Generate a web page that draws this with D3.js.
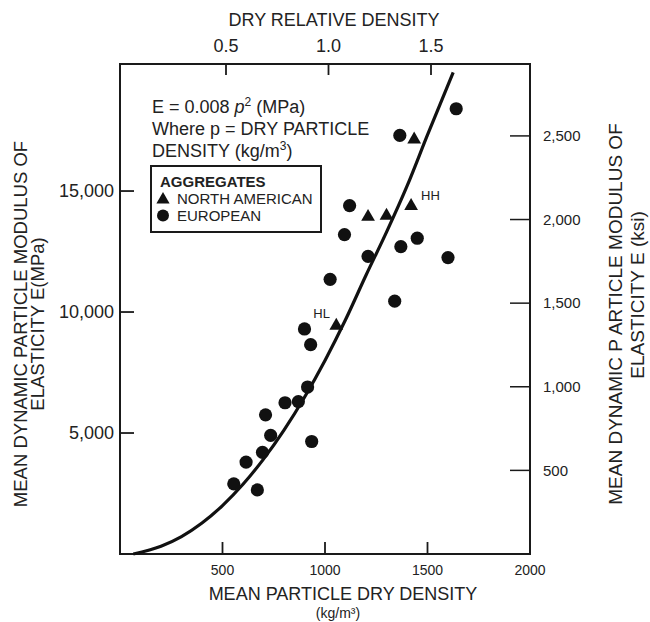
<!DOCTYPE html>
<html>
<head>
<meta charset="utf-8">
<script src="https://cdn.jsdelivr.net/npm/d3@7/dist/d3.min.js"></script>
<style>
  html, body { margin: 0; padding: 0; background: #fff; }
  svg { display: block; }
  text { font-family: "Liberation Sans", Arial, Helvetica, sans-serif; fill: #222; }
</style>
</head>
<body>
<svg id="chart" width="650" height="622"></svg>
<script>
// ---- Data ----
const europeanDensity = [1640, 1365, 1120, 1095, 1370, 1450, 1600, 1210, 1025, 1340, 900, 930, 915, 870, 805, 710, 735, 935, 695, 615, 555, 670];
const europeanModulus = [18400, 17300, 14400, 13200, 12700, 13050, 12250, 12300, 11350, 10450, 9300, 8650, 6900, 6300, 6250, 5750, 4900, 4650, 4200, 3800, 2900, 2650];

const northAmericanDensity = [1435, 1210, 1300, 1420, 1055];
const northAmericanModulus = [17200, 14000, 14050, 14450, 9500];
const northAmericanLabels  = ["", "", "", "HH", "HL"];

// fitted curve E = 0.008 p^2 as drawn in the figure
const curveDensity = [65, 200, 300, 400, 500, 600, 700, 800, 900, 1000, 1100, 1200, 1300, 1400, 1500, 1625];
const curveModulus = [0, 320, 720, 1280, 2000, 2880, 3920, 5120, 6480, 8000, 9680, 11520, 13300, 15200, 17320, 19900];

const bottomTicks = [500, 1000, 1500, 2000];
const bottomTickLabels = ["500", "1000", "1500", "2000"];
const topTicks = [0.5, 1.0, 1.5];
const topTickLabels = ["0.5", "1.0", "1.5"];
const leftTicks = [5000, 10000, 15000];
const leftTickLabels = ["5,000", "10,000", "15,000"];
const rightTicks = [500, 1000, 1500, 2000, 2500];
const rightTickLabels = ["500", "1,000", "1,500", "2,000", "2,500"];

const legendTitle = "AGGREGATES";
const legendItems = ["NORTH AMERICAN", "EUROPEAN"];

// ---- Layout ----
const L = 120, R = 530, T = 64, B = 554;
const svg = d3.select("#chart");

const x = d3.scaleLinear().domain([0, 2000]).range([L, R]);
const xTop = d3.scaleLinear().domain([0.5, 1.5]).range([226, 431]);
const y = d3.scaleLinear().domain([0, 20250]).range([B, T]);
const yR = d3.scaleLinear().domain([0, 2930]).range([B, T]);

// frame
svg.append("rect").attr("x", L).attr("y", T).attr("width", R - L).attr("height", B - T)
  .attr("fill", "none").attr("stroke", "#1a1a1a").attr("stroke-width", 2);

const tickColor = "#1a1a1a";
// bottom ticks (inside)
svg.append("g").selectAll("line").data(bottomTicks.filter(d => d < 2000)).join("line")
  .attr("x1", d => x(d)).attr("x2", d => x(d)).attr("y1", B).attr("y2", B - 12)
  .attr("stroke", tickColor).attr("stroke-width", 1.8);
svg.append("g").selectAll("text").data(bottomTicks).join("text")
  .attr("x", d => x(d)).attr("y", 575).attr("text-anchor", "middle")
  .attr("font-size", 14).text((d, i) => bottomTickLabels[i]);

// top ticks (inside)
svg.append("g").selectAll("line").data(topTicks).join("line")
  .attr("x1", d => xTop(d)).attr("x2", d => xTop(d)).attr("y1", T).attr("y2", T + 11)
  .attr("stroke", tickColor).attr("stroke-width", 1.8);
svg.append("g").selectAll("text").data(topTicks).join("text")
  .attr("x", d => xTop(d)).attr("y", 52).attr("text-anchor", "middle")
  .attr("font-size", 18).text((d, i) => topTickLabels[i]);

// left ticks
svg.append("g").selectAll("line").data(leftTicks).join("line")
  .attr("x1", L).attr("x2", L + 14).attr("y1", d => y(d)).attr("y2", d => y(d))
  .attr("stroke", tickColor).attr("stroke-width", 1.8);
svg.append("g").selectAll("text").data(leftTicks).join("text")
  .attr("x", 114).attr("y", d => y(d)).attr("dy", "0.35em").attr("text-anchor", "end")
  .attr("font-size", 18).text((d, i) => leftTickLabels[i]);

// right ticks
svg.append("g").selectAll("line").data(rightTicks).join("line")
  .attr("x1", R).attr("x2", R - 20).attr("y1", d => yR(d)).attr("y2", d => yR(d))
  .attr("stroke", tickColor).attr("stroke-width", 1.5);
svg.append("g").selectAll("text").data(rightTicks).join("text")
  .attr("x", 543).attr("y", d => yR(d)).attr("dy", "0.35em").attr("text-anchor", "start")
  .attr("font-size", 15).text((d, i) => rightTickLabels[i]);

// axis titles
svg.append("text").attr("x", 334).attr("y", 26).attr("text-anchor", "middle")
  .attr("font-size", 18).text("DRY RELATIVE DENSITY");
svg.append("text").attr("x", 343).attr("y", 600).attr("text-anchor", "middle")
  .attr("font-size", 18).text("MEAN PARTICLE DRY DENSITY");
svg.append("text").attr("x", 338).attr("y", 618).attr("text-anchor", "middle")
  .attr("font-size", 14).text("(kg/m³)");

// left title (rotated)
const lt = svg.append("g").attr("transform", "translate(27,324) rotate(-90)");
lt.append("text").attr("x", 0).attr("y", 0).attr("text-anchor", "middle")
  .attr("font-size", 18.5).text("MEAN DYNAMIC PARTICLE MODULUS OF");
lt.append("text").attr("x", 0).attr("y", 17).attr("text-anchor", "middle")
  .attr("font-size", 18.5).text("ELASTICITY E(MPa)");

// right title (rotated)
const rt = svg.append("g").attr("transform", "translate(622,314) rotate(-90)");
rt.append("text").attr("x", 0).attr("y", 0).attr("text-anchor", "middle")
  .attr("font-size", 19).text("MEAN DYNAMIC P ARTICLE MODULUS OF");
rt.append("text").attr("x", 19).attr("y", 22).attr("text-anchor", "middle")
  .attr("font-size", 19).text("ELASTICITY E (ksi)");

// equation annotation
const eq = svg.append("text").attr("x", 152).attr("y", 113).attr("font-size", 18);
eq.append("tspan").text("E = 0.008 ");
eq.append("tspan").attr("font-style", "italic").text("p");
eq.append("tspan").attr("font-size", 12).attr("dy", -7).text("2");
eq.append("tspan").attr("dy", 7).text(" (MPa)");
svg.append("text").attr("x", 152).attr("y", 135).attr("font-size", 18).text("Where p = DRY PARTICLE");
const l3 = svg.append("text").attr("x", 152).attr("y", 157).attr("font-size", 18);
l3.append("tspan").text("DENSITY (kg/m");
l3.append("tspan").attr("font-size", 12).attr("dy", -7).text("3");
l3.append("tspan").attr("dy", 7).text(")");

// legend
svg.append("rect").attr("x", 151).attr("y", 166).attr("width", 170).attr("height", 66)
  .attr("fill", "#fff").attr("stroke", "#1a1a1a").attr("stroke-width", 2);
svg.append("text").attr("x", 160).attr("y", 187).attr("font-size", 15).attr("font-weight", "bold")
  .text(legendTitle);
const triPath = (cx, cy, s) => `M${cx},${cy - s * 0.5}L${cx + s * 0.55},${cy + s * 0.45}L${cx - s * 0.55},${cy + s * 0.45}Z`;
svg.append("path").attr("d", triPath(163, 198, 12)).attr("fill", "#111");
svg.append("circle").attr("cx", 163).attr("cy", 215.5).attr("r", 6).attr("fill", "#111");
svg.append("g").selectAll("text").data(legendItems).join("text")
  .attr("x", 177).attr("y", (d, i) => 203.5 + i * 17.5).attr("font-size", 15).text(d => d);

// curve
const curvePts = curveDensity.map((p, i) => [p, curveModulus[i]]);
svg.append("path").datum(curvePts)
  .attr("d", d3.line().x(d => x(d[0])).y(d => y(d[1])).curve(d3.curveMonotoneX))
  .attr("fill", "none").attr("stroke", "#111").attr("stroke-width", 3.2);

// European points
const eu = europeanDensity.map((p, i) => ({ p, e: europeanModulus[i] }));
svg.append("g").selectAll("circle").data(eu).join("circle")
  .attr("cx", d => x(d.p)).attr("cy", d => y(d.e)).attr("r", 6.6).attr("fill", "#111");

// North American points
const na = northAmericanDensity.map((p, i) => ({ p, e: northAmericanModulus[i], label: northAmericanLabels[i] }));
svg.append("g").selectAll("path").data(na).join("path")
  .attr("d", d => triPath(x(d.p), y(d.e), 12.5)).attr("fill", "#111");
svg.append("g").selectAll("text").data(na.filter(d => d.label)).join("text")
  .attr("x", d => d.label === "HH" ? x(d.p) + 10 : x(d.p) - 23)
  .attr("y", d => d.label === "HH" ? y(d.e) - 4 : y(d.e) - 6)
  .attr("font-size", 13).text(d => d.label);
</script>
</body>
</html>
